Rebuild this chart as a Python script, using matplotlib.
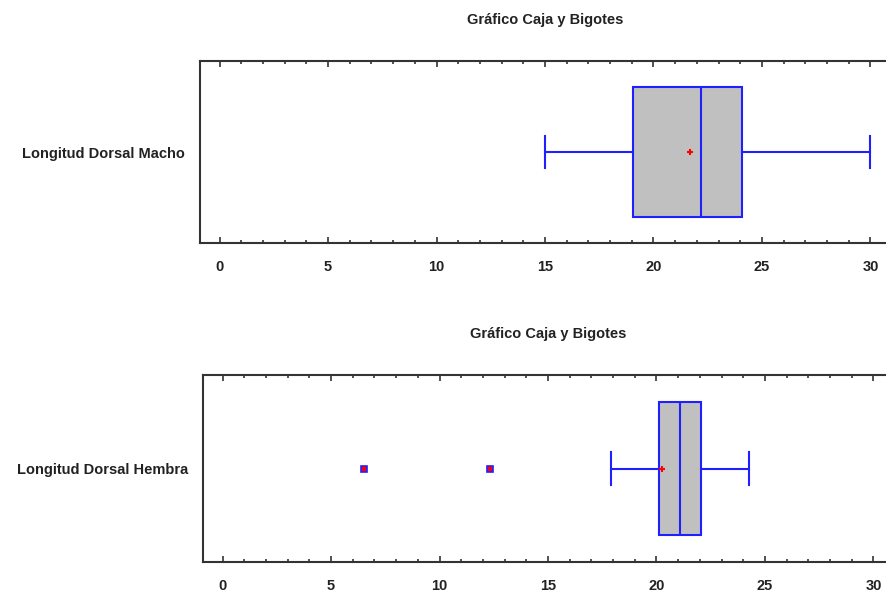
import matplotlib
matplotlib.use("Agg")
import matplotlib.pyplot as plt
from matplotlib.ticker import MultipleLocator

plt.rcParams['font.family'] = ['Liberation Sans', 'DejaVu Sans']

title = "Gráfico Caja y Bigotes"

labels = ["Longitud Dorsal Macho", "Longitud Dorsal Hembra"]
whislo = [15.0, 17.9]
q1 = [19.05, 20.12]
med = [22.2, 21.1]
q3 = [24.1, 22.03]
whishi = [30.0, 24.28]
means = [21.7, 20.26]
fliers = [[], [6.5, 12.34]]

xticks = [0, 5, 10, 15, 20, 25, 30]

fig = plt.figure(figsize=(8.87, 5.91), dpi=100)
positions = [
    [200 / 887, (591 - 243) / 591, 690 / 887, 182 / 591],
    [203 / 887, (591 - 562) / 591, 690 / 887, 187 / 591],
]
title_y = [20, 334]
label_fs = 10.5

spine_col = "#333333"
for i in range(2):
    ax = fig.add_axes(positions[i])
    stats = [dict(whislo=whislo[i], q1=q1[i], med=med[i], q3=q3[i],
                  whishi=whishi[i], mean=means[i], fliers=fliers[i])]
    ax.bxp(stats, positions=[0], widths=0.71, capwidths=0.176, vert=False,
           patch_artist=True, showmeans=True, showfliers=True,
           boxprops=dict(facecolor="#c0c0c0", edgecolor="#2020ff", linewidth=1.5),
           medianprops=dict(color="#2020ff", linewidth=1.5),
           whiskerprops=dict(color="#2020ff", linewidth=1.5),
           capprops=dict(color="#2020ff", linewidth=1.5),
           meanprops=dict(marker="+", markeredgecolor="red", markersize=5,
                          markeredgewidth=1.5),
           flierprops=dict(marker="s", markerfacecolor="red",
                           markeredgecolor="#2020ff", markersize=5,
                           markeredgewidth=1.2))
    ax.set_xlim(-0.9, 30.9)
    ax.set_ylim(-0.5, 0.5)
    ax.set_yticks([])
    ax.set_xticks(xticks)
    ax.set_xticklabels([str(t) for t in xticks], fontsize=label_fs, fontweight="bold",
                       color="#222222")
    ax.xaxis.set_minor_locator(MultipleLocator(1))
    ax.tick_params(axis='x', which='major', direction='in', length=4, width=1.2,
                   top=True, bottom=True, colors=spine_col, labelcolor="#222222", pad=12)
    ax.tick_params(axis='x', which='minor', direction='in', length=2, width=1.2,
                   top=True, bottom=True, colors=spine_col)
    for s in ax.spines.values():
        s.set_linewidth(1.5)
        s.set_color(spine_col)
    ax.text(-0.022, 0.49, labels[i], transform=ax.transAxes, ha="right", va="center",
            fontsize=label_fs, fontweight="bold", color="#222222")
    fig.text((positions[i][0] + positions[i][2] / 2), 1 - title_y[i] / 591, title,
             ha="center", va="center", fontsize=label_fs, fontweight="bold",
             color="#222222")

fig.savefig("out.png", dpi=100)
